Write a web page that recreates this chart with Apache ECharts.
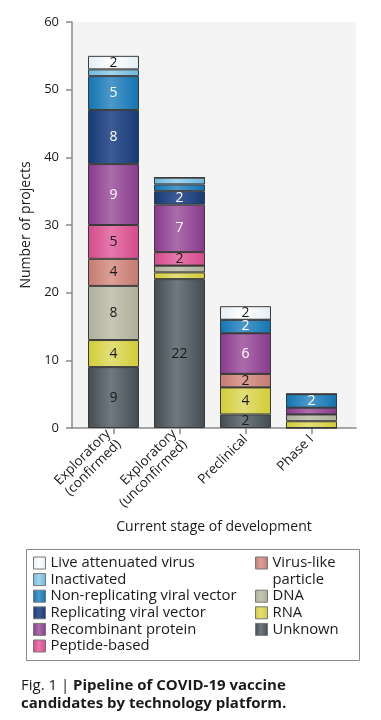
<!DOCTYPE html>
<html>
<head>
<meta charset="utf-8">
<script src="https://cdn.jsdelivr.net/npm/echarts@6/dist/echarts.min.js"></script>
<style>
html,body{margin:0;padding:0;background:#fff;}
#c{width:381px;height:720px;}
</style>
</head>
<body>
<div id="c"></div>
<script>
const categories = ['Exploratory\n(confirmed)', 'Exploratory\n(unconfirmed)', 'Preclinical', 'Phase I'];
const yTicks = [0, 10, 20, 30, 40, 50, 60];

// stacked from bottom to top
const unknown      = [9, 22, 2, 0];
const rna          = [4, 1, 4, 1];
const dna          = [8, 1, 0, 1];
const vlp          = [4, 0, 2, 0];
const peptide      = [5, 2, 0, 0];
const recombinant  = [9, 7, 6, 1];
const replicating  = [8, 2, 0, 0];
const nonReplicating = [5, 1, 2, 2];
const inactivated  = [1, 1, 0, 0];
const liveAttenuated = [2, 0, 2, 0];

const seriesDefs = [
  {name: 'Unknown', data: unknown, c1: '#434c51', c2: '#6f7a80', label: '#1a1a1a'},
  {name: 'RNA', data: rna, c1: '#d1cc35', c2: '#e2de78', label: '#1a1a1a'},
  {name: 'DNA', data: dna, c1: '#aeae9a', c2: '#c6c6b6', label: '#1a1a1a'},
  {name: 'Virus-like particle', data: vlp, c1: '#c47a70', c2: '#dca096', label: '#1a1a1a'},
  {name: 'Peptide-based', data: peptide, c1: '#d44a8a', c2: '#e678ad', label: '#1a1a1a'},
  {name: 'Recombinant protein', data: recombinant, c1: '#883a8c', c2: '#ab6cab', label: '#ffffff'},
  {name: 'Replicating viral vector', data: replicating, c1: '#153a75', c2: '#3d5b96', label: '#ffffff'},
  {name: 'Non-replicating viral vector', data: nonReplicating, c1: '#1274b2', c2: '#4c98c9', label: '#ffffff'},
  {name: 'Inactivated', data: inactivated, c1: '#6fb8dc', c2: '#a2d4ec', label: '#1a1a1a'},
  {name: 'Live attenuated virus', data: liveAttenuated, c1: '#e3eef5', c2: '#ffffff', label: '#1a1a1a'}
];

const FONT = 'Open Sans';

function grad(c1, c2) {
  return new echarts.graphic.LinearGradient(0, 0, 1, 0, [
    {offset: 0, color: c1}, {offset: 0.45, color: c2}, {offset: 1, color: c1}
  ]);
}

const series = seriesDefs.map(d => ({
  name: d.name,
  type: 'bar',
  stack: 'total',
  xAxisIndex: 1,
  yAxisIndex: 1,
  barWidth: 51,
  data: d.data,
  itemStyle: {color: grad(d.c1, d.c2), borderColor: '#3a3a3a', borderWidth: 1},
  label: {
    show: true,
    position: 'inside',
    color: d.label,
    fontFamily: FONT,
    fontSize: 14,
    formatter: p => (p.value >= 2 ? String(p.value) : '')
  },
  emphasis: {disabled: true}
}));

const legendText = {fontFamily: FONT, fontSize: 14.8, color: '#1a1a1a', lineHeight: 16.6};

const chart = echarts.init(document.getElementById('c'), null, {renderer: 'canvas'});
chart.setOption({
  animation: false,
  backgroundColor: '#ffffff',
  title: {
    left: 21,
    top: 677,
    padding: 0,
    text: '{r|Fig. 1 | }{b|Pipeline of COVID-19 vaccine}\n{b|candidates by technology platform.}',
    textStyle: {
      fontWeight: 'normal',
      rich: {
        r: {fontFamily: FONT, fontSize: 15, fontWeight: 'normal', color: '#1a1a1a', lineHeight: 17.5},
        b: {fontFamily: FONT, fontSize: 15, fontWeight: 'bold', color: '#1a1a1a', lineHeight: 17.5}
      }
    }
  },
  grid: [
    {left: 72, right: 25, top: 22, bottom: 292, show: true, backgroundColor: '#f4f4f4', borderWidth: 0},
    {left: 80.5, right: 36.5, top: 22, bottom: 292}
  ],
  xAxis: [
    {
      gridIndex: 0, type: 'value', min: 0, max: 1,
      axisLine: {show: true, lineStyle: {color: '#8a8a8a', width: 1.5}},
      axisTick: {show: false}, axisLabel: {show: false}, splitLine: {show: false},
      name: 'Current stage of development', nameLocation: 'middle', nameGap: 92,
      nameTextStyle: {fontFamily: FONT, fontSize: 14, color: '#1a1a1a'}
    },
    {
      gridIndex: 1, type: 'category', data: categories,
      axisLine: {show: false},
      axisTick: {show: true, alignWithLabel: true, length: 6, lineStyle: {color: '#8a8a8a', width: 1.5}},
      axisLabel: {rotate: 45, margin: 9, fontFamily: FONT, fontSize: 13.5, color: '#1a1a1a', lineHeight: 15}
    }
  ],
  yAxis: [
    {
      gridIndex: 0, type: 'value', min: 0, max: 60, interval: 10,
      axisLine: {show: true, lineStyle: {color: '#8a8a8a', width: 1.5}},
      axisTick: {show: true, length: 6, lineStyle: {color: '#8a8a8a', width: 1.5}},
      axisLabel: {margin: 13, fontFamily: FONT, fontSize: 13, color: '#1a1a1a',
        formatter: v => (yTicks.includes(v) ? String(v) : '')},
      splitLine: {show: false},
      name: 'Number of projects', nameLocation: 'middle', nameGap: 37,
      nameTextStyle: {fontFamily: FONT, fontSize: 14, color: '#1a1a1a'}
    },
    {
      gridIndex: 1, type: 'value', min: 0, max: 60, interval: 10, show: false
    }
  ],
  legend: [
    {
      orient: 'vertical', left: 33, top: 554.7, padding: 0, itemGap: 0,
      itemWidth: 12, itemHeight: 12, icon: 'rect',
      itemStyle: {borderColor: '#777', borderWidth: 1},
      textStyle: legendText,
      selectedMode: false,
      data: ['Live attenuated virus', 'Inactivated', 'Non-replicating viral vector',
             'Replicating viral vector', 'Recombinant protein', 'Peptide-based']
    },
    {
      orient: 'vertical', left: 255, top: 538.1, padding: 0, itemGap: 0,
      itemWidth: 12, itemHeight: 12, icon: 'rect',
      itemStyle: {borderColor: '#777', borderWidth: 1},
      textStyle: legendText,
      selectedMode: false,
      formatter: n => (n === 'Virus-like particle' ? ' \nVirus-like\nparticle' : n),
      data: ['Virus-like particle', 'DNA', 'RNA', 'Unknown']
    }
  ],
  graphic: [
    {type: 'rect', left: 24, top: 547, shape: {width: 333, height: 111},
     style: {fill: 'none', stroke: '#8a8a8a', lineWidth: 1}, silent: true}
  ],
  series: series
});
</script>
</body>
</html>
